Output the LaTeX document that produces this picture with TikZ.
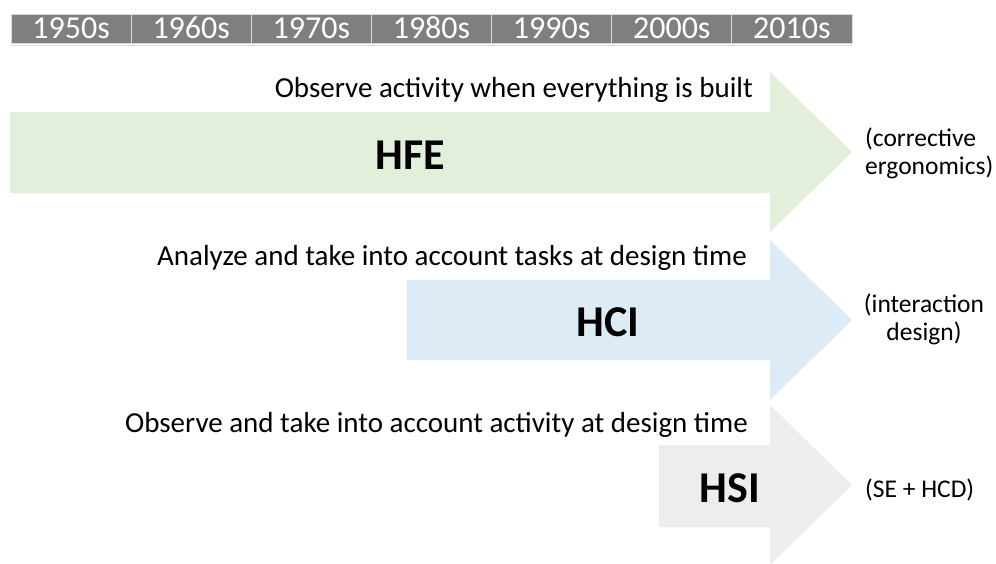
\documentclass[tikz,border=0pt]{standalone}
\usepackage{fontspec}
\setmainfont{Carlito}
\definecolor{hdrgray}{HTML}{7F7F7F}
\definecolor{hdrline}{HTML}{D9D9D9}
\definecolor{hfegreen}{HTML}{E2EFDA}
\definecolor{hciblue}{HTML}{DDEBF7}
\definecolor{hsigray}{HTML}{EDEDED}
\begin{document}
\begin{tikzpicture}[x=1pt,y=-1pt,
  yearcell/.style={fill=hdrgray, draw=hdrline, line width=0.8pt, minimum width=120.14pt, minimum height=29pt, inner xsep=0pt, inner ysep=1pt, text height=23pt, text depth=4pt, text=white, font=\fontsize{32}{32}\selectfont},
  caption/.style={anchor=east, inner sep=0pt, font=\fontsize{29}{29}\selectfont},
  bigname/.style={inner sep=0pt, font=\fontsize{44}{44}\selectfont\bfseries},
  sidenote/.style={inner sep=0pt, font=\fontsize{25.5}{28}\selectfont}]
\useasboundingbox (0,0) rectangle (996,563);
\fill[white] (0,0) rectangle (996,563);
% header
\draw[hdrline, line width=1pt] (11,45) -- (852,45);
\foreach \d [count=\i from 0] in {1950s,1960s,1970s,1980s,1990s,2000s,2010s}
  \node[yearcell] (yr\i) at ({11+120.14*\i+60.07},28.5) {\d};
% arrows
\fill[hfegreen] (10,112) -- (770,112) -- (770,72) -- (852,152) -- (770,232) -- (770,193) -- (10,193) -- cycle;
\fill[hciblue] (407,280) -- (770,280) -- (770,240) -- (852,320) -- (770,400) -- (770,360) -- (407,360) -- cycle;
\fill[hsigray] (659,445) -- (770,445) -- (770,405) -- (852,485) -- (770,565) -- (770,527) -- (659,527) -- cycle;
% texts
\node[caption] (c1) at (753,90) {Observe activity when everything is built};
\node[bigname] (hfe) at (410,155) {HFE};
\node[sidenote, anchor=west, align=left] (n1) at (865,153) {(corrective\\ergonomics)};
\node[caption] (c2) at (747,258) {Analyze and take into account tasks at design time};
\node[bigname] (hci) at (608,322) {HCI};
\node[sidenote, align=center] (n2) at (924,319) {(interaction\\design)};
\node[caption] (c3) at (748,425) {Observe and take into account activity at design time};
\node[bigname] (hsi) at (730,488) {HSI};
\node[sidenote, anchor=west] (n3) at (865,490) {(SE + HCD)};
\end{tikzpicture}
\end{document}
